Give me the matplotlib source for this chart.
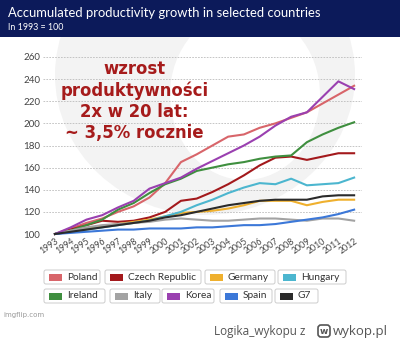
import numpy as np
import matplotlib
matplotlib.use("Agg")
import matplotlib.pyplot as plt
from matplotlib.patches import Rectangle, FancyBboxPatch, Ellipse

# data (1993 = 100)
years = list(range(1993, 2013))
poland = [100, 105, 110, 114, 120, 125, 133, 146, 165, 172, 180, 188, 190, 196, 200, 205, 210, 218, 226, 234]
czech = [100, 104, 108, 112, 111, 112, 115, 120, 130, 132, 138, 145, 153, 162, 169, 170, 167, 170, 173, 173]
germany = [100, 103, 105, 107, 109, 111, 113, 116, 119, 120, 121, 123, 126, 130, 130, 130, 126, 129, 131, 131]
hungary = [100, 102, 104, 106, 108, 110, 112, 116, 120, 126, 131, 137, 142, 146, 145, 150, 144, 145, 146, 151]
ireland = [100, 103, 108, 113, 122, 128, 137, 145, 150, 157, 160, 163, 165, 168, 170, 171, 183, 190, 196, 201]
italy = [100, 103, 106, 108, 109, 110, 111, 113, 114, 113, 112, 112, 113, 114, 114, 113, 112, 114, 114, 112]
korea = [100, 106, 113, 117, 124, 130, 141, 146, 151, 159, 166, 173, 180, 188, 198, 206, 210, 224, 238, 231]
spain = [100, 101, 102, 103, 104, 104, 105, 105, 105, 106, 106, 107, 108, 108, 109, 111, 113, 115, 118, 122]
g7 = [100, 102, 104, 106, 108, 110, 112, 115, 117, 120, 123, 126, 128, 130, 131, 131, 131, 134, 135, 135]

names = ["Poland", "Czech Republic", "Germany", "Hungary", "Ireland", "Italy", "Korea", "Spain", "G7"]
series = [poland, czech, germany, hungary, ireland, italy, korea, spain, g7]
colors = ["#d8656a", "#a3191c", "#efb02e", "#4cb6cf", "#3f8f3f", "#a3a3a3", "#9a40b0", "#3c78d8", "#2b2b2b"]
yticks = [100, 120, 140, 160, 180, 200, 220, 240, 260]

fig = plt.figure(figsize=(4, 3.41), dpi=100)
fig.patch.set_facecolor("white")

# background layer: faint ring + header band
bg = fig.add_axes([0, 0, 1, 1], zorder=-5)
bg.set_xlim(0, 400)
bg.set_ylim(341, 0)
bg.axis("off")
bg.add_patch(Ellipse((205, 75), 300, 280, facecolor="#f3f3f3", edgecolor="none"))
bg.add_patch(Ellipse((245, 95), 150, 170, facecolor="white", edgecolor="none"))
bg.add_patch(Rectangle((0, 0), 400, 37, facecolor="#0c1a5a", edgecolor="none"))
bg.text(8, 13, "Accumulated productivity growth in selected countries",
        color="white", fontsize=9.4, va="center", ha="left", family="Lato")
bg.text(8, 27, "In 1993 = 100", color="white", fontsize=6.4, va="center", ha="left", family="Lato")

ax = fig.add_axes([43 / 400, 1 - 234 / 341, 319 / 400, 177 / 341])
ax.set_facecolor("none")
for name, vals, c in zip(names, series, colors):
    ax.plot(years, vals, color=c, lw=1.5, clip_on=False)

ax.set_xlim(1992.24, 2012.5)
ax.set_ylim(100, 260)
ax.set_yticks(yticks)
ax.set_yticklabels([str(v) for v in yticks], fontsize=7, color="#444444", family="Lato")
ax.set_xticks(years)
ax.set_xticklabels([str(y) for y in years], rotation=35, fontsize=6.3, color="#444444",
                   family="Lato", ha="right", rotation_mode="anchor")
ax.tick_params(length=0, pad=2)
ax.grid(axis="y", color="#bbbbbb", lw=0.6, ls=(0, (2, 1.5)))
ax.set_axisbelow(True)
for s in ax.spines.values():
    s.set_visible(False)

ax.text(1998.05, 257, "wzrost\nproduktywności\n2x w 20 lat:\n~ 3,5% rocznie", color="#a61b1b",
        fontsize=11.9, fontweight="bold", ha="center", va="top", linespacing=1.22,
        family="DejaVu Sans")

# legend boxes
rows = [(0, 4, 277), (4, 9, 296)]
xpos = [[44, 105, 205, 278], [44, 110, 162, 220, 275]]
widths = [[56, 96, 70, 68], [61, 50, 52, 52, 43]]
for (a, b, yc), xs, ws in zip(rows, xpos, widths):
    for k, i in enumerate(range(a, b)):
        x0, w = xs[k], ws[k]
        bg.add_patch(FancyBboxPatch((x0, yc - 7), w, 14, boxstyle="round,pad=0,rounding_size=2",
                                    facecolor="white", edgecolor="#cccccc", lw=0.7))
        bg.add_patch(Rectangle((x0 + 5, yc - 3.5), 13, 7, facecolor=colors[i], edgecolor="none"))
        bg.text(x0 + 23, yc, names[i], fontsize=7.3, color="#333333",
                va="center", ha="left", family="Lato")

bg.text(3, 315, "imgflip.com", fontsize=5, color="#999999", va="center", family="DejaVu Sans")
bg.text(305, 331, "Logika_wykopu z", fontsize=8.5, color="#555555",
        va="center", ha="right", family="Open Sans")
bg.add_patch(FancyBboxPatch((318, 325), 12, 12, boxstyle="round,pad=0,rounding_size=3",
                            facecolor="white", edgecolor="#555555", lw=1.2))
bg.text(324, 331, "w", fontsize=6.5, fontweight="bold", color="#555555",
        va="center", ha="center", family="DejaVu Sans")
bg.text(333, 331, "wykop.pl", fontsize=9.5, color="#555555", va="center", ha="left",
        family="Open Sans")

fig.savefig("out.png", dpi=100)
